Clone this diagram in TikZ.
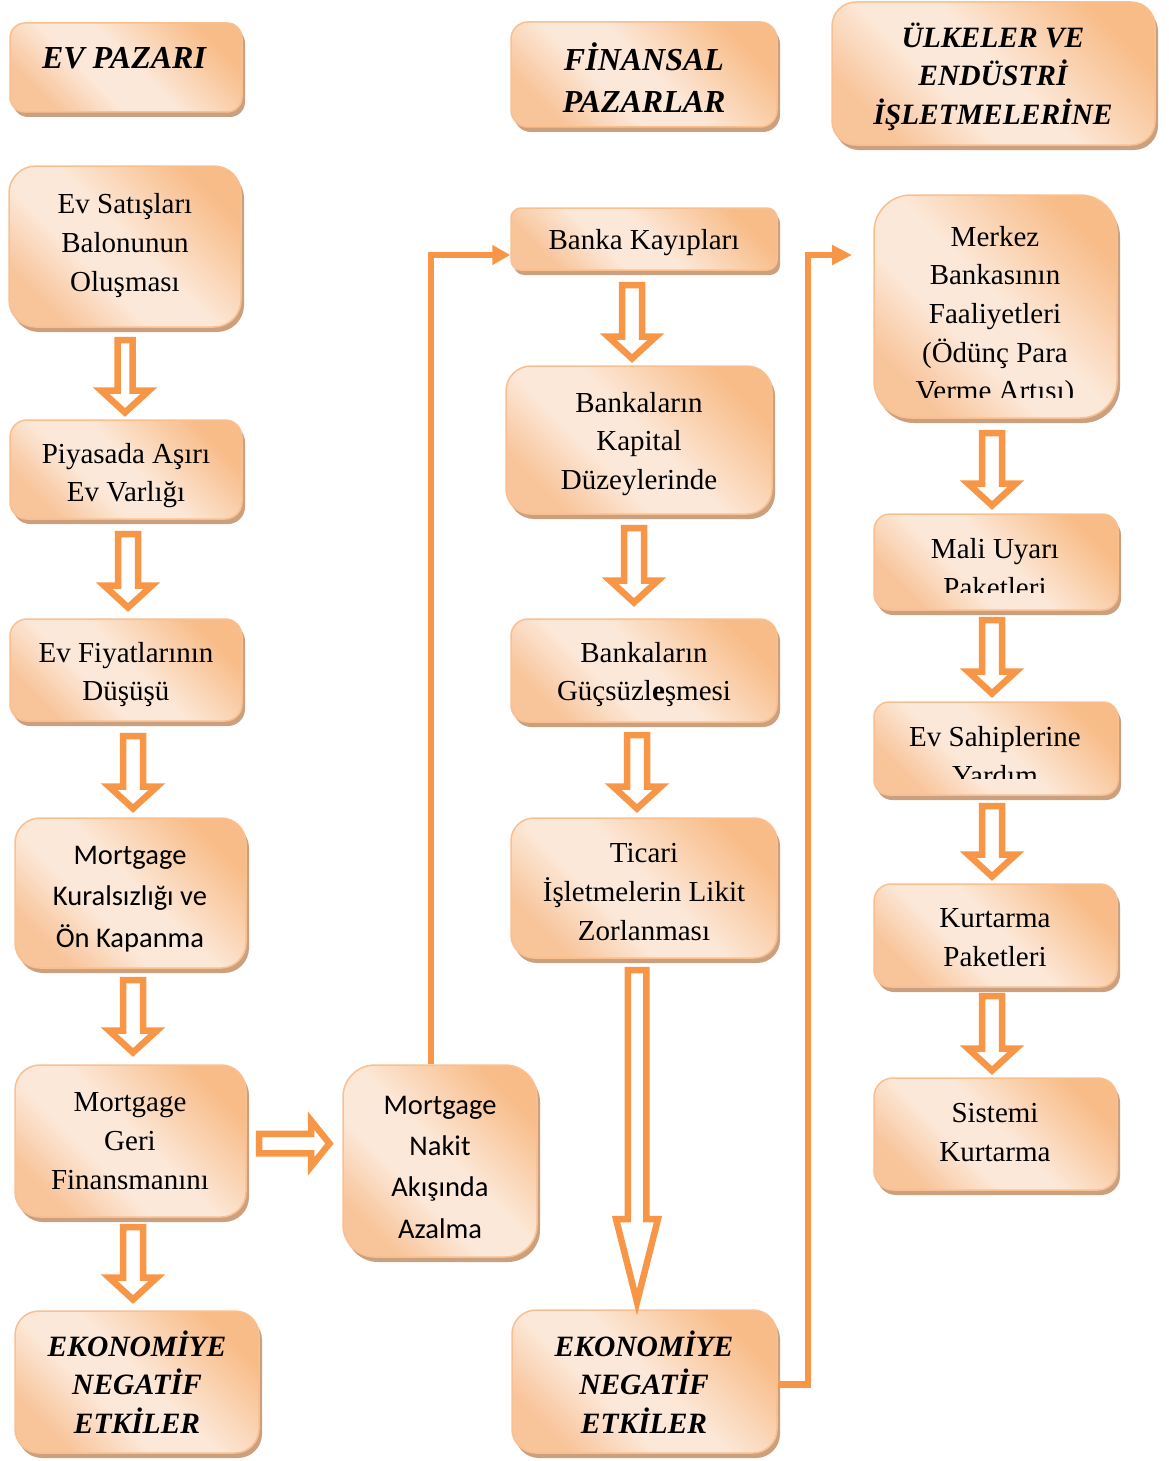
\documentclass[tikz,border=0pt]{standalone}
\usepackage{fontspec}
\setmainfont{Liberation Serif}
\newfontfamily\calib{Carlito}
\usetikzlibrary{arrows.meta,shadows}
\definecolor{arrowc}{HTML}{F79646}
\definecolor{gdark}{HTML}{F8BC88}
\definecolor{glight}{HTML}{FCE8D8}
\definecolor{gmid}{HTML}{F8C49A}
\definecolor{bordc}{HTML}{F9BF8F}
\definecolor{shadc}{HTML}{CBA07E}
\pgfdeclarehorizontalshading{boxgrad}{100bp}{color(0bp)=(gdark); color(25bp)=(gdark); color(48bp)=(glight); color(60bp)=(glight); color(75bp)=(gmid); color(100bp)=(gmid)}
\tikzset{
  box/.style={draw=bordc, line width=1.5pt, shading=boxgrad, shading angle=225,
    drop shadow={shadow xshift=3pt, shadow yshift=-5pt, fill=shadc, opacity=1},
    inner sep=0pt},
  txt/.style={align=center, inner sep=0pt, font=\fontsize{29}{38.7}\selectfont},
  ctxt/.style={align=center, inner sep=0pt, font=\calib\fontsize{28.5}{41.3}\selectfont},
  hdr/.style={align=center, inner sep=0pt, font=\fontsize{29.5}{38.5}\selectfont\bfseries\itshape},
  bighdr/.style={align=center, inner sep=0pt, font=\fontsize{32}{42}\selectfont\bfseries\itshape},
  blockarrow/.style={draw=arrowc, fill=white, line width=6.5pt, line join=miter},
  conn/.style={draw=arrowc, line width=6.5pt, line join=miter}
}
\newcommand\bx[6]{\node[box, rounded corners=#6pt, minimum width=#4pt, minimum height=#5pt] (#1) at (#2,#3) {};}
\newcommand\dnarrow[6]{\draw[blockarrow] ({#1-#4},#2) -- ({#1+#4},#2) -- ({#1+#4},{#3-#6}) -- ({#1+#5},{#3-#6}) -- (#1,#3) -- ({#1-#5},{#3-#6}) -- ({#1-#4},{#3-#6}) -- cycle;}
\begin{document}
\begin{tikzpicture}[x=1pt,y=-1pt]
\useasboundingbox (0,0) rectangle (1168,1461);
% column 1
\bx{h1}{126}{67.5}{232}{89}{15}
\bx{a1}{125}{246.5}{232}{161}{27}
\bx{a2}{126}{469.5}{232}{99}{17}
\bx{a3}{126}{670}{232}{102}{17}
\bx{a4}{130.5}{893}{231}{150}{25}
\bx{a5}{130.5}{1141}{231}{152}{25}
\bx{a6}{137}{1382}{244}{142}{24}
% column 2
\bx{b0}{440}{1161}{194}{192}{32}
\bx{h2}{644}{74.5}{266}{105}{17}
\bx{b1}{644}{239}{266}{62}{10}
\bx{b2}{639}{440}{266}{148}{25}
\bx{b3}{644}{670.5}{266}{103}{17}
\bx{b4}{644}{888}{266}{140}{23}
\bx{b5}{644.5}{1381.5}{265}{143}{24}
% column 3
\bx{h3}{993.5}{73.5}{323}{143}{24}
\bx{c1}{995.5}{306.5}{243}{223}{37}
\bx{c2}{996}{562}{244}{96}{16}
\bx{c3}{996}{748.5}{244}{93}{15}
\bx{c4}{995.5}{935.5}{243}{103}{17}
\bx{c5}{995.5}{1134}{243}{112}{19}
% texts
\node[bighdr] (h1t) at (124,58) {EV PAZARI};
\node[bighdr] (h2t) at (644,78) {FİNANSAL\\PAZARLAR};
\node[hdr] (h3t) at (993,76.5) {ÜLKELER VE\\ENDÜSTRİ\\İŞLETMELERİNE};
\node[txt] (a1t) at (125,245.5) {Ev Satışları\\Balonunun\\Oluşması};
\node[txt] (a2t) at (126,475.5) {Piyasada Aşırı\\Ev Varlığı};
\node[txt] (a3t) at (126,674.5) {Ev Fiyatlarının\\Düşüşü};
\node[ctxt] (a4t) at (130,899) {Mortgage\\Kuralsızlığı ve\\Ön Kapanma};
\node[txt] (a5t) at (130,1141) {Mortgage\\Geri\\Finansmanını};
\node[hdr] (a6t) at (137,1382) {EKONOMİYE\\NEGATİF\\ETKİLER};
\node[ctxt] (b0t) at (440,1167) {Mortgage\\Nakit\\Akışında\\Azalma};
\node[txt] (b1t) at (644,243) {Banka Kayıpları};
\node[txt] (b2t) at (639,444) {Bankaların\\Kapital\\Düzeylerinde};
\node[txt] (b3t) at (644,674.5) {Bankaların\\Güçsüzl\textbf{e}şmesi};
\node[txt] (b4t) at (644,892) {Ticari\\İşletmelerin Likit\\Zorlanması};
\node[hdr] (b5t) at (644,1382) {EKONOMİYE\\NEGATİF\\ETKİLER};
\begin{scope}
\clip (874,195) rectangle (1117,397);
\node[txt] (c1t) at (995,316.5) {Merkez\\Bankasının\\Faaliyetleri\\(Ödünç Para\\Verme Artısı)};
\end{scope}
\begin{scope}
\clip (874,514) rectangle (1118,592);
\node[txt] (c2t) at (995,568) {Mali Uyarı\\Paketleri};
\end{scope}
\begin{scope}
\clip (874,702) rectangle (1118,778);
\node[txt] (c3t) at (995,756) {Ev Sahiplerine\\Yardım};
\end{scope}
\node[txt] (c4t) at (995,937.5) {Kurtarma\\Paketleri};
\node[txt] (c5t) at (995,1132.5) {Sistemi\\Kurtarma};
% block arrows column 1
\dnarrow{125}{340}{412.5}{7.5}{24}{22}
\dnarrow{128}{534}{607.5}{10}{24}{22}
\dnarrow{133}{736}{808.5}{10}{24}{22}
\dnarrow{133}{980}{1052.5}{10}{24}{22}
\dnarrow{133}{1227}{1299.5}{10}{24}{22}
% column 2
\dnarrow{632}{285}{358.5}{10}{24}{22}
\dnarrow{634}{528}{602.5}{10}{24}{22}
\dnarrow{637}{735}{808.5}{10}{24}{22}
\dnarrow{637}{970}{1302}{9.25}{21}{83}
% column 3
\dnarrow{992}{433}{505.5}{10}{24}{22}
\dnarrow{992}{620}{693.5}{10}{24}{22}
\dnarrow{992}{806}{876.5}{10}{24}{22}
\dnarrow{992}{996}{1070.5}{10}{24}{22}
% horizontal block arrow
\draw[blockarrow] (259,1133.75) -- (311,1133.75) -- (311,1120.5) -- (329.5,1143.5) -- (311,1166.5) -- (311,1153.25) -- (259,1153.25) -- cycle;
% connectors
\coordinate (k1) at (431,255);
\draw[conn, -{Triangle[length=18pt,width=19pt]}] (b0.north -| k1) -- (k1) -- (k1 -| b1.west);
\coordinate (k2) at (808,1384.5);
\coordinate (k3) at (808,255);
\coordinate (k4) at (852,255);
\draw[conn, -{Triangle[length=20pt,width=19pt]}] (b5.east |- k2) -- (k2) -- (k3) -- (k4);
\end{tikzpicture}
\end{document}
